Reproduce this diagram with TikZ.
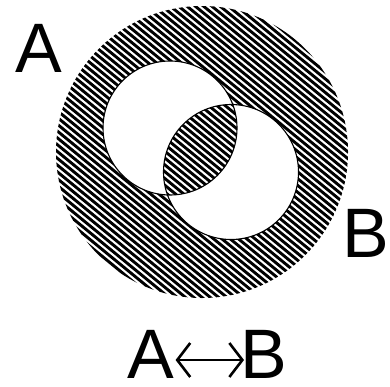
\documentclass[tikz,border=0pt]{standalone}
\usepackage{fontspec}
\setmainfont{Liberation Sans}
\usepackage{tikz}
\usetikzlibrary{arrows.meta,calc}

\begin{document}
\begin{tikzpicture}[x=1pt,y=-1pt,line join=round,
  hatch/.style={line width=2.9pt,black},
  setline/.style={line width=1.1pt,black},
  biarrow/.style={line width=2.6pt,{Straight Barb[length=13pt,width=34pt]}-{Straight Barb[length=13pt,width=34pt]}},
  biglabel/.style={inner sep=0pt,font=\fontsize{70}{70}\selectfont}]
  \useasboundingbox (0,0) rectangle (390,386);
  \coordinate (U) at (202,152);
  \coordinate (CA) at (170,128);
  \coordinate (CB) at (231,172);
  % shaded part: universe minus the symmetric difference
  \begin{scope}[even odd rule]
    \clip (U) circle (146) (CA) circle (67) (CB) circle (67.5);
    \foreach \c in {-290,-283.2,...,280}
      \draw[hatch] (0,\c) -- (390,\c+320);
  \end{scope}
  \draw[setline] (CA) circle (67);
  \draw[setline] (CB) circle (67.5);
  \node[biglabel,anchor=base west] (labA) at (15,72) {A};
  \node[biglabel,anchor=base west] (labB) at (342,257) {B};
  % caption A <-> B
  \node[biglabel,anchor=base west] (capA) at (127,378) {A};
  \node[biglabel,anchor=base west] (capB) at (240,378) {B};
  \draw[biarrow] ($(capA.base east)+(1.5,-18)$) -- ($(capB.base west)+(4,-18)$);
\end{tikzpicture}
\end{document}
